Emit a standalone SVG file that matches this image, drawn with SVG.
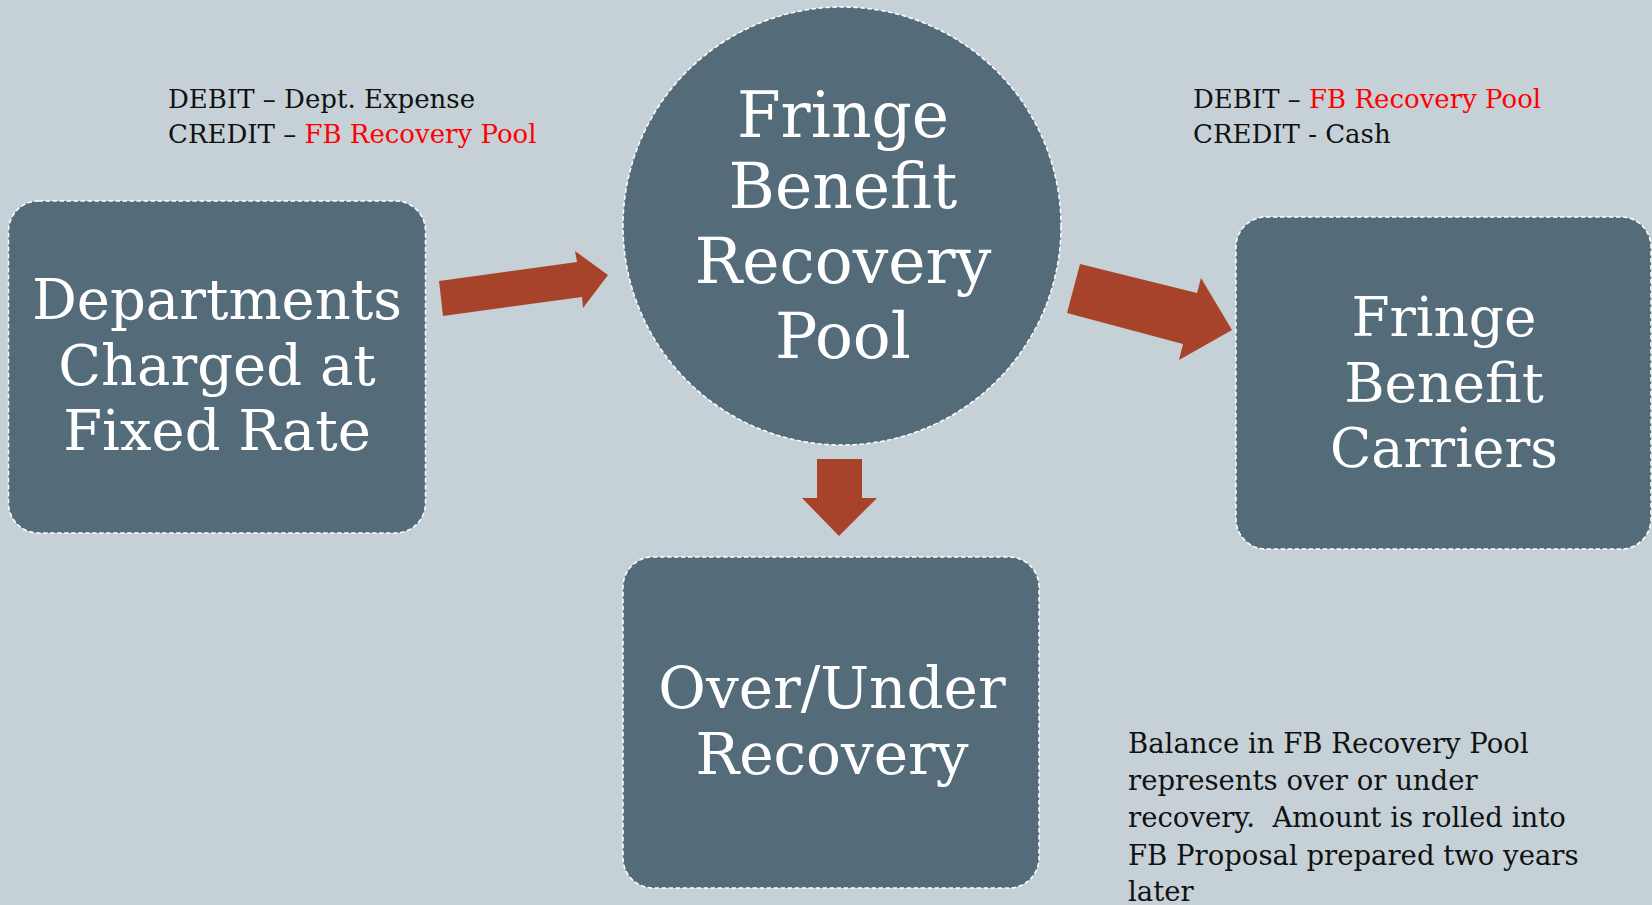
<svg xmlns="http://www.w3.org/2000/svg" width="1652" height="905" viewBox="0 0 1652 905">
  <style>
    .node { fill: #546B79; stroke: #FFFFFF; stroke-width: 1.5; stroke-dasharray: 4.5 2.5; }
    .big { font-family: "DejaVu Serif", "Liberation Serif", serif; fill: #FFFFFF; text-anchor: middle; }
    .note { font-family: "DejaVu Serif", "Liberation Serif", serif; fill: #111111; }
    .red { fill: #FF0000; }
    .arrow { fill: #A8432B; }
  </style>
  <rect width="1652" height="905" fill="#C6D1D7"/>

  <g id="departments">
    <rect class="node" x="8.5" y="201" width="417" height="332" rx="30"/>
    <text class="big" font-size="56" x="217" y="319">Departments</text>
    <text class="big" font-size="56" x="217" y="385">Charged at</text>
    <text class="big" font-size="56" x="217" y="450">Fixed Rate</text>
  </g>

  <g id="recovery-pool">
    <circle class="node" cx="842" cy="226" r="219"/>
    <text class="big" font-size="63" x="843" y="137">Fringe</text>
    <text class="big" font-size="63" x="843" y="208">Benefit</text>
    <text class="big" font-size="63" x="843" y="283">Recovery</text>
    <text class="big" font-size="63" x="843" y="358">Pool</text>
  </g>

  <g id="carriers">
    <rect class="node" x="1236" y="217" width="415" height="332" rx="30"/>
    <text class="big" font-size="55" x="1444" y="336">Fringe</text>
    <text class="big" font-size="55" x="1444" y="402">Benefit</text>
    <text class="big" font-size="54" x="1444" y="467">Carriers</text>
  </g>

  <g id="over-under">
    <rect class="node" x="623" y="557" width="416" height="331" rx="30"/>
    <text class="big" font-size="58" x="832" y="708">Over/Under</text>
    <text class="big" font-size="58" x="832" y="774">Recovery</text>
  </g>

  <g id="connectors">
    <polygon class="arrow" points="439,281 577,262 575,251 608,275 583,308 582,297 443,316"/>
    <polygon class="arrow" points="1080,264 1197,293 1201,278 1232,330 1179,360 1183,344 1067,313"/>
    <polygon class="arrow" points="817,459 862,459 862,498 877,498 839,536 802,498 817,498"/>
  </g>

  <g id="entry-left">
    <text class="note" font-size="26" x="168" y="108">DEBIT – Dept. Expense</text>
    <text class="note" font-size="26" x="168" y="143">CREDIT – <tspan class="red">FB Recovery Pool</tspan></text>
  </g>

  <g id="entry-right">
    <text class="note" font-size="26" x="1193" y="108">DEBIT – <tspan class="red">FB Recovery Pool</tspan></text>
    <text class="note" font-size="26" x="1193" y="143">CREDIT - Cash</text>
  </g>

  <g id="balance-note">
    <text class="note" font-size="27.5" x="1128" y="753">Balance in FB Recovery Pool</text>
    <text class="note" font-size="27.5" x="1128" y="790">represents over or under</text>
    <text class="note" font-size="27.5" x="1128" y="827">recovery.&#160; Amount is rolled into</text>
    <text class="note" font-size="27.5" x="1128" y="865">FB Proposal prepared two years</text>
    <text class="note" font-size="27.5" x="1128" y="901">later</text>
  </g>
</svg>
